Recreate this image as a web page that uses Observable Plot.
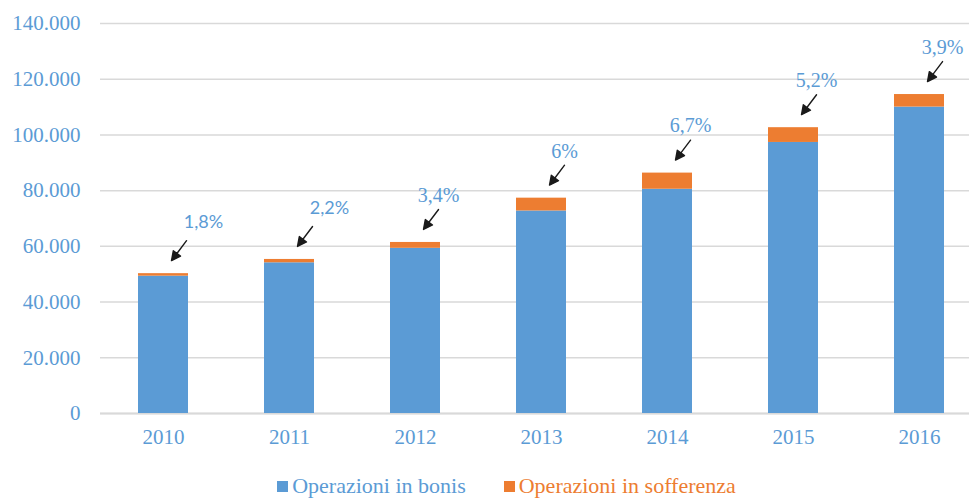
<!DOCTYPE html>
<html>
<head>
<meta charset="utf-8">
<script src="https://cdn.jsdelivr.net/npm/d3@7"></script>
<script src="https://cdn.jsdelivr.net/npm/@observablehq/plot@0.6"></script>
<style>
  body { margin: 0; background: #fff; overflow: hidden; }
  #legend { display: flex; justify-content: center; align-items: center; gap: 38px; padding-left: 44px;
    font-family: "Liberation Serif", "Times New Roman", serif; font-size: 22px; height: 42px; }
  .item { display: flex; align-items: center; gap: 4px; }
  .sw { width: 11px; height: 11px; display: inline-block; }
</style>
</head>
<body>
<div id="chart"></div>
<div id="legend"></div>
<script>
const years = ["2010", "2011", "2012", "2013", "2014", "2015", "2016"];
const bonis = [49300, 54100, 59300, 72700, 80500, 97300, 110000];
const sofferenza = [900, 1200, 2100, 4600, 5800, 5300, 4500];
const pctLabels = ["1,8%", "2,2%", "3,4%", "6%", "6,7%", "5,2%", "3,9%"];
const seriesNames = ["Operazioni in bonis", "Operazioni in sofferenza"];
const seriesColors = ["#5B9BD5", "#ED7D31"];
const yTicks = [0, 20000, 40000, 60000, 80000, 100000, 120000, 140000];

const itFormat = d3.formatLocale({decimal: ",", thousands: ".", grouping: [3], currency: ["€", ""]}).format(",.0f");

const data = [];
years.forEach((y, i) => {
  data.push({year: y, series: seriesNames[0], value: bonis[i]});
  data.push({year: y, series: seriesNames[1], value: sofferenza[i]});
});
const ann = years.map((y, i) => ({year: y, total: bonis[i] + sofferenza[i], label: pctLabels[i], idx: i}));

const arrowShape = {
  draw(context, l) {
    const h = 9, w = 4.5;
    context.moveTo(0, 0);
    context.lineTo(0, -l + h);
    context.moveTo(0, -l);
    context.lineTo(-w, -l + h);
    context.lineTo(w, -l + h);
    context.closePath();
  }
};

const chart = Plot.plot({
  width: 969,
  height: 465,
  marginLeft: 100,
  marginRight: -14,
  marginTop: 23,
  marginBottom: 52,
  style: {fontFamily: "'Liberation Serif', 'Times New Roman', serif", background: "#fff", overflow: "hidden"},
  x: {domain: years, paddingInner: 0.6, paddingOuter: 0.3, label: null},
  y: {domain: [0, 140000], label: null},
  color: {domain: seriesNames, range: seriesColors},
  marks: [
    Plot.gridY(yTicks, {stroke: "#D9D9D9", strokeOpacity: 1, strokeWidth: 1.5}),
    Plot.ruleY([0], {stroke: "#D9D9D9", strokeWidth: 2}),
    Plot.axisY({ticks: yTicks, tickFormat: itFormat, tickSize: 0, tickPadding: 20, fontSize: 21, fill: "#5B9BD5", label: null}),
    Plot.axisX({tickSize: 0, tickPadding: 16, fontSize: 21, fill: "#5B9BD5", label: null}),
    Plot.barY(data, {x: "year", y: "value", fill: "series"}),
    Plot.vector(ann, {x: "year", y: "total", dx: 8, dy: -13, length: 25, rotate: 217, anchor: "end",
      shape: arrowShape, stroke: "#1a1a1a", fill: "#1a1a1a", strokeWidth: 1.4}),
    Plot.text(ann.filter(d => d.idx < 2), {x: "year", y: "total", text: "label", dx: 40, dy: -51,
      fill: "#5B9BD5", fontSize: 18, fontFamily: "Lato, 'Noto Sans', sans-serif"}),
    Plot.text(ann.filter(d => d.idx >= 2), {x: "year", y: "total", text: "label", dx: 23, dy: -47,
      fill: "#5B9BD5", fontSize: 20})
  ]
});
document.getElementById("chart").appendChild(chart);

const legend = document.getElementById("legend");
seriesNames.forEach((name, i) => {
  const it = document.createElement("span");
  it.className = "item";
  const sw = document.createElement("span");
  sw.className = "sw";
  sw.style.background = seriesColors[i];
  const tx = document.createElement("span");
  tx.textContent = name;
  tx.style.color = seriesColors[i];
  it.appendChild(sw);
  it.appendChild(tx);
  legend.appendChild(it);
});
</script>
</body>
</html>
